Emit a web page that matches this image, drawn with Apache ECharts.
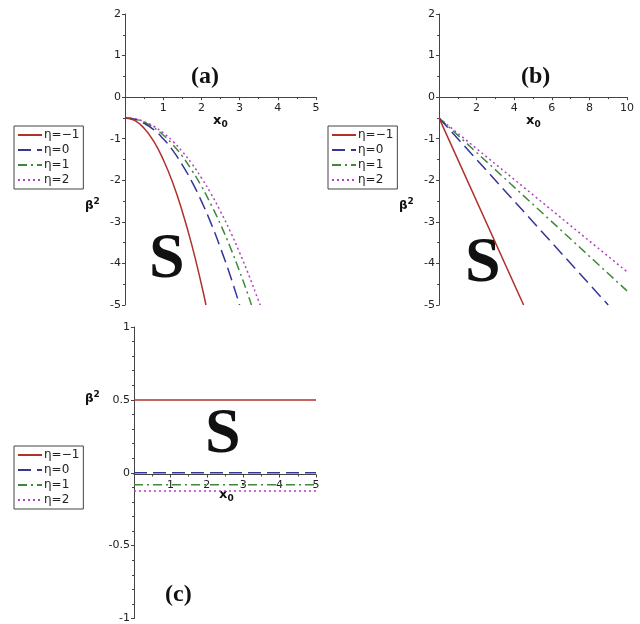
<!DOCTYPE html>
<html><head><meta charset="utf-8">
<script src="https://cdn.jsdelivr.net/npm/echarts@6/dist/echarts.min.js"></script>
<style>html,body{margin:0;padding:0;background:#fff}#c{width:640px;height:624px}</style>
</head><body><div id="c"></div>
<script>
// ---------- data ----------
const names = ['η=−1', 'η=0', 'η=1', 'η=2'];
const colors = ['#b0302c', '#35359a', '#3f8a3a', '#b23fc4'];
// panel (a): [x0, beta^2]
const aEtaM1 = [[0,-0.5],[0.25,-0.56],[0.5,-0.75],[0.75,-1.06],[1,-1.5],[1.25,-2.06],[1.5,-2.75],[1.75,-3.56],[2,-4.5],[2.12,-5.0]];
const aEta0  = [[0,-0.5],[0.25,-0.53],[0.5,-0.63],[0.75,-0.78],[1,-1.0],[1.25,-1.28],[1.5,-1.63],[1.75,-2.03],[2,-2.5],[2.25,-3.03],[2.5,-3.63],[2.75,-4.28],[3,-5.0]];
const aEta1  = [[0,-0.5],[0.25,-0.53],[0.5,-0.6],[0.75,-0.73],[1,-0.91],[1.25,-1.14],[1.5,-1.42],[1.75,-1.76],[2,-2.14],[2.25,-2.58],[2.5,-3.06],[2.75,-3.6],[3,-4.19],[3.25,-4.83],[3.31,-5.0]];
const aEta2  = [[0,-0.5],[0.25,-0.52],[0.5,-0.59],[0.75,-0.7],[1,-0.86],[1.25,-1.06],[1.5,-1.31],[1.75,-1.6],[2,-1.94],[2.25,-2.32],[2.5,-2.75],[2.75,-3.22],[3,-3.74],[3.25,-4.3],[3.5,-4.91],[3.54,-5.0]];
// panel (b)
const bEtaM1 = [[0,-0.5],[4.5,-5.0]];
const bEta0  = [[0,-0.5],[9.0,-5.0]];
const bEta1  = [[0,-0.5],[10,-4.66]];
const bEta2  = [[0,-0.5],[10,-4.2]];
// panel (c)
const cEtaM1 = [[0,0.5],[5,0.5]];
const cEta0  = [[0,0],[5,0]];
const cEta1  = [[0,-0.083],[5,-0.083]];
const cEta2  = [[0,-0.125],[5,-0.125]];

const panelA = [aEtaM1, aEta0, aEta1, aEta2];
const panelB = [bEtaM1, bEta0, bEta1, bEta2];
const panelC = [cEtaM1, cEta0, cEta1, cEta2];

// ---------- layout ----------
const grids = [
  {left:125, top:14, width:191, height:291, ymin:-5, ymax:2},
  {left:439, top:14, width:188, height:291, ymin:-5, ymax:2},
  {left:134, top:327, width:182, height:295, ymin:-1, ymax:1}
];

// ---------- styles ----------
const dashes = ['solid', [13,6], [9,4,2,4], [2,3]];
const axisCol = '#444';
const lblStyle = {color:'#222', fontSize:11, fontFamily:'DejaVu Sans'};

function xAxis(gi, max, interval){
  const g = grids[gi];
  // place the x axis on the zero line of its y axis
  const zeroFromTop = g.height * g.ymax / (g.ymax - g.ymin);
  return {type:'value', gridIndex:gi, min:0, max:max, interval:interval,
    position:'top', offset:-zeroFromTop,
    axisLine:{onZero:false, lineStyle:{color:axisCol, width:1}},
    axisTick:{show:true, inside:true, length:3, lineStyle:{color:axisCol}},
    minorTick:{show:true, splitNumber:2, length:2, lineStyle:{color:axisCol}},
    axisLabel:Object.assign({inside:true, showMinLabel:false, margin:5}, lblStyle),
    splitLine:{show:false}};
}
function yAxis(gi, interval, minorSplit){
  const g = grids[gi];
  return {type:'value', gridIndex:gi, min:g.ymin, max:g.ymax, interval:interval,
    axisLine:{show:true, onZero:false, lineStyle:{color:axisCol, width:1}},
    axisTick:{show:true, length:3, lineStyle:{color:axisCol}},
    minorTick:{show:true, splitNumber:minorSplit, length:2, lineStyle:{color:axisCol}},
    axisLabel:Object.assign({margin:4}, lblStyle),
    splitLine:{show:false}};
}

const series = [];
[panelA, panelB, panelC].forEach((panel, gi) => {
  panel.forEach((d, i) => {
    series.push({name:names[i], type:'line', xAxisIndex:gi, yAxisIndex:gi, data:d,
      symbol:'none', smooth: gi===0, animation:false, z: 10-i,
      lineStyle:{color:colors[i], width:1.5, type:dashes[i]},
      itemStyle:{color:colors[i]}});
  });
});

function legend(left, top){
  return {data:names, orient:'vertical', left:left, top:top, itemWidth:24, itemHeight:12,
    itemGap:3, padding:[3,4,3,3], borderColor:'#444', borderWidth:1,
    itemStyle:{opacity:0},
    textStyle:{color:'#222', fontSize:12, fontFamily:'DejaVu Sans', padding:[0,0,0,-3]},
    selectedMode:false};
}

function txt(x, y, text, font){
  return {type:'text', left:x, top:y, style:{text:text, font:font, fill:'#111'}};
}
function xName(x, y){
  return {type:'text', left:x, top:y, style:{rich:{a:{font:'bold 13px DejaVu Sans', fill:'#111'}, b:{font:'bold 9px DejaVu Sans', fill:'#111', padding:[8,0,0,0]}}, text:'{a|x}{b|0}'}};
}
function bName(x, y){
  return {type:'text', left:x, top:y, style:{rich:{a:{font:'bold 12px DejaVu Sans', fill:'#111', padding:[5,0,0,0]}, b:{font:'bold 9px DejaVu Sans', fill:'#111', padding:[0,0,4,0]}}, text:'{a|β}{b|2}'}};
}

const option = {
  animation:false,
  backgroundColor:'#fff',
  grid:grids.map(g => ({left:g.left, top:g.top, width:g.width, height:g.height})),
  xAxis:[xAxis(0,5,1), xAxis(1,10,2), xAxis(2,5,1)],
  yAxis:[yAxis(0,1,2), yAxis(1,1,2), yAxis(2,0.5,5)],
  legend:[legend(14,126), legend(328,126), legend(14,446)],
  series:series,
  graphic:[
    txt(191, 65, '(a)', 'bold 24px "Liberation Serif"'),
    txt(521, 65, '(b)', 'bold 24px "Liberation Serif"'),
    txt(165, 583, '(c)', 'bold 24px "Liberation Serif"'),
    txt(149, 228, 'S', 'bold 64px "Liberation Serif"'),
    txt(465, 232, 'S', 'bold 64px "Liberation Serif"'),
    txt(205, 403, 'S', 'bold 64px "Liberation Serif"'),
    xName(213, 114), xName(526, 114), xName(219, 488),
    bName(85, 197), bName(399, 197), bName(85, 390)
  ]
};
echarts.init(document.getElementById('c'), null, {renderer:'canvas'}).setOption(option);
</script>
</body></html>
